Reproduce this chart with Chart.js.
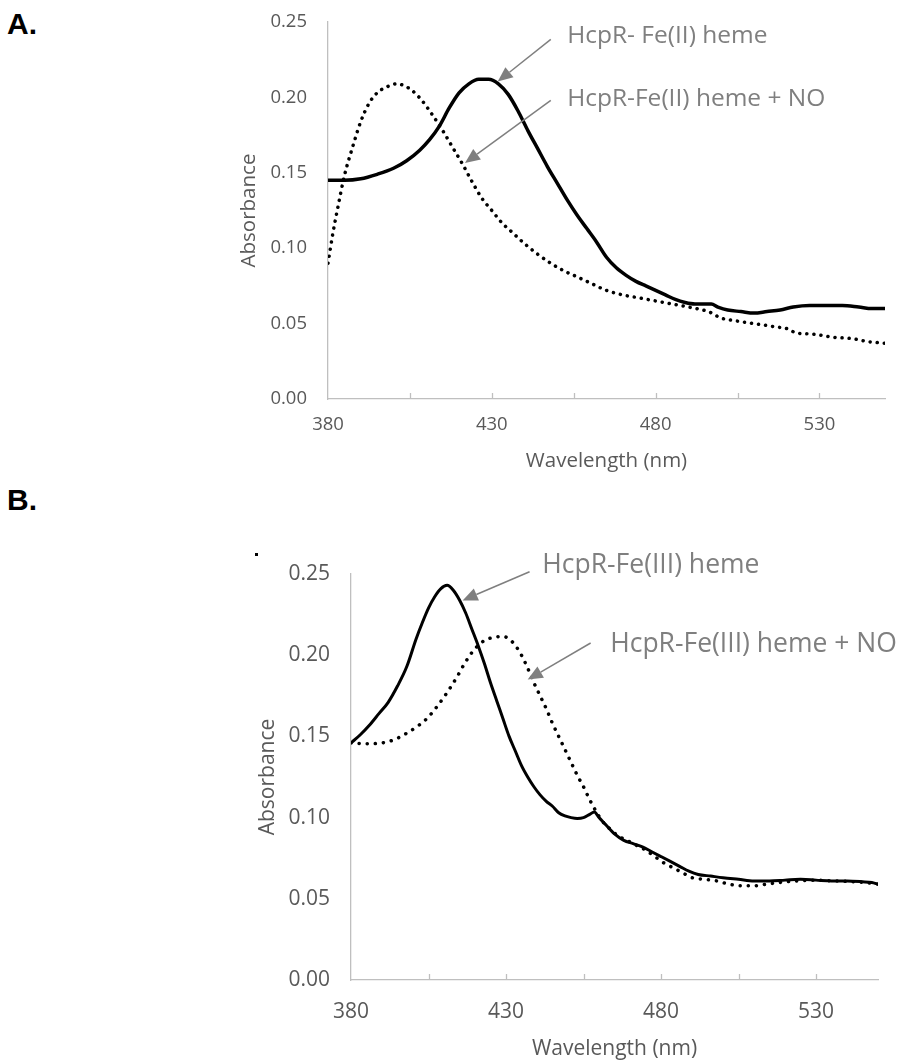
<!DOCTYPE html>
<html>
<head>
<meta charset="utf-8">
<script src="https://cdn.jsdelivr.net/npm/chart.js@4.4.1/dist/chart.umd.min.js"></script>
<style>
  body { margin: 0; background: #fff; }
  #page { position: relative; width: 900px; height: 1062px; overflow: hidden; }
  canvas { position: absolute; }
  .tag { position: absolute; font: bold 30px "Liberation Sans", Arial, sans-serif; line-height: 30px; color: #000; }
  .speck { position: absolute; left: 255px; top: 553px; width: 3px; height: 3px; background: #000; }
</style>
</head>
<body>
<div id="page">
  <div class="tag" style="left:7px; top:9px;">A.</div>
  <div class="tag" style="left:7px; top:485px;">B.</div>
  <div class="speck"></div>
  <canvas id="chartA" width="675" height="480" style="left:225px; top:0px;"></canvas>
  <canvas id="chartB" width="660" height="532" style="left:240px; top:530px;"></canvas>
</div>
<script>
// wavelength axis labels / minor tick marks
const xLabels = [380, 430, 480, 530];
const xMarks = [405, 430, 455, 480, 505, 530];
const yTicks = [0, 0.05, 0.10, 0.15, 0.20, 0.25];

// panel A: HcpR-Fe(II) heme
const aHemeWl = [380, 385, 390, 395, 400, 404, 408, 411, 414, 417, 420, 423, 426, 429, 432, 435, 438, 441, 444, 447,
  450, 453, 456, 459, 462, 465, 468, 471, 474, 477, 480, 483, 486, 489, 492, 495, 497, 499, 502, 506,
  510, 514, 518, 522, 527, 532, 537, 542, 546, 550];
const aHeme = [0.145, 0.145, 0.146, 0.149, 0.153, 0.158, 0.165, 0.172, 0.181, 0.193, 0.203, 0.209, 0.212, 0.212, 0.209, 0.202, 0.191, 0.178, 0.166, 0.154,
  0.143, 0.132, 0.122, 0.113, 0.104, 0.094, 0.087, 0.082, 0.078, 0.075, 0.072, 0.069, 0.066, 0.064, 0.063, 0.063, 0.063, 0.061, 0.059, 0.058,
  0.057, 0.058, 0.059, 0.061, 0.062, 0.062, 0.062, 0.061, 0.060, 0.060];

// panel A: HcpR-Fe(II) heme + NO
const aNoWl = [380, 381.5, 383, 385, 387.5, 390, 392.5, 395, 398, 401, 403, 406, 409, 412, 415, 418, 421, 424, 427, 430,
  433, 436, 440, 444, 448, 452, 456, 460, 465, 470, 475, 480, 485, 490, 496, 498, 499.5, 504, 510, 516,
  521, 522.5, 528, 534, 540, 545, 550];
const aNo = [0.090, 0.110, 0.127, 0.148, 0.167, 0.184, 0.196, 0.203, 0.207, 0.209, 0.208, 0.204, 0.197, 0.188, 0.178, 0.167, 0.156, 0.144, 0.133, 0.125,
  0.117, 0.111, 0.103, 0.096, 0.090, 0.085, 0.081, 0.077, 0.072, 0.069, 0.067, 0.065, 0.063, 0.061, 0.058, 0.056, 0.054, 0.052, 0.050, 0.048,
  0.046, 0.044, 0.043, 0.041, 0.040, 0.038, 0.037];

// panel B: HcpR-Fe(III) heme
const bHemeWl = [380, 383, 386, 389, 392, 395, 398, 401, 403, 405, 407, 409, 411, 413, 415, 417, 419, 421, 423, 425,
  427, 429, 431, 433, 435, 437, 439, 441, 443, 445, 447, 449, 451, 453, 455, 457, 458.5, 460, 462, 465,
  468, 471, 474, 477, 480, 483, 486, 489, 492, 496, 500, 505, 510, 515, 520, 525, 530, 535, 540, 545, 548, 550];
const bHeme = [0.146, 0.151, 0.157, 0.164, 0.171, 0.181, 0.193, 0.210, 0.220, 0.229, 0.236, 0.241, 0.243, 0.240, 0.234, 0.226, 0.216, 0.206, 0.195, 0.183,
  0.172, 0.161, 0.150, 0.141, 0.132, 0.125, 0.119, 0.114, 0.110, 0.107, 0.103, 0.101, 0.100, 0.0995, 0.100, 0.102, 0.1035, 0.100, 0.096, 0.090,
  0.086, 0.084, 0.082, 0.079, 0.076, 0.073, 0.070, 0.067, 0.065, 0.064, 0.063, 0.062, 0.061, 0.061, 0.0615, 0.062, 0.0615, 0.061, 0.061, 0.0605, 0.060, 0.059];

// panel B: HcpR-Fe(III) heme + NO
const bNoWl = [380, 385, 390, 394, 398, 402, 405, 408, 411, 414, 417, 420, 423, 426, 429, 431, 433, 435, 437, 439,
  441, 443, 445, 447, 449, 451, 453, 455, 457, 459, 461, 463, 466, 469, 472, 475, 478, 481, 484, 487,
  490, 494, 498, 502, 506, 510, 514, 518, 524, 530, 536, 542, 546, 550];
const bNo = [0.146, 0.1455, 0.146, 0.148, 0.152, 0.157, 0.162, 0.169, 0.177, 0.186, 0.196, 0.204, 0.209, 0.211, 0.2115, 0.210, 0.206, 0.200, 0.192, 0.183,
  0.175, 0.167, 0.158, 0.150, 0.142, 0.134, 0.126, 0.119, 0.111, 0.104, 0.098, 0.094, 0.089, 0.086, 0.083, 0.080, 0.076, 0.072, 0.069, 0.066,
  0.063, 0.062, 0.061, 0.059, 0.058, 0.058, 0.059, 0.060, 0.061, 0.0615, 0.061, 0.0605, 0.060, 0.059];

const AXIS = '#bfbfbf';
const LABEL = '#595959';
const NOTE = '#7f7f7f';
const FONT = '"Open Sans", sans-serif';

function pairs(xs, ys) {
  return xs.map((x, i) => ({ x: x, y: ys[i] }));
}

// labels and arrows, placed in data units
const notesPlugin = {
  id: 'notes',
  afterDraw(chart) {
    const o = chart.options.plugins.notes;
    const ctx = chart.ctx, xs = chart.scales.x, ys = chart.scales.y;
    ctx.save();
    // inward tick marks on the x axis
    ctx.strokeStyle = AXIS;
    ctx.lineWidth = 1.3;
    xMarks.forEach(v => {
      const px = Math.round(xs.getPixelForValue(v)) + 0.5;
      ctx.beginPath();
      ctx.moveTo(px, ys.bottom);
      ctx.lineTo(px, ys.bottom - 6);
      ctx.stroke();
    });
    ctx.fillStyle = NOTE;
    ctx.font = o.size + 'px ' + FONT;
    ctx.textBaseline = 'middle';
    ctx.textAlign = 'left';
    o.labels.forEach(l => ctx.fillText(l.text, xs.getPixelForValue(l.x), ys.getPixelForValue(l.y)));
    ctx.strokeStyle = NOTE;
    ctx.lineWidth = 1.5;
    o.arrows.forEach(a => {
      const x1 = xs.getPixelForValue(a[0]), y1 = ys.getPixelForValue(a[1]);
      const x2 = xs.getPixelForValue(a[2]), y2 = ys.getPixelForValue(a[3]);
      const ang = Math.atan2(y2 - y1, x2 - x1);
      const hl = 15, hw = 6.5;
      const bx = x2 - hl * Math.cos(ang), by = y2 - hl * Math.sin(ang);
      ctx.beginPath();
      ctx.moveTo(x1, y1);
      ctx.lineTo(bx, by);
      ctx.stroke();
      ctx.beginPath();
      ctx.moveTo(x2, y2);
      ctx.lineTo(bx + hw * Math.sin(ang), by - hw * Math.cos(ang));
      ctx.lineTo(bx - hw * Math.sin(ang), by + hw * Math.cos(ang));
      ctx.closePath();
      ctx.fill();
    });
    ctx.restore();
  }
};

function makePanel(id, p) {
  const ctx = document.getElementById(id).getContext('2d');
  return new Chart(ctx, {
    type: 'line',
    data: {
      datasets: [
        {
          data: pairs(p.hemeWl, p.heme),
          borderColor: '#000', borderWidth: p.solidWidth,
          pointRadius: 0, cubicInterpolationMode: 'monotone'
        },
        {
          data: pairs(p.noWl, p.no),
          borderColor: '#000', borderWidth: p.dotWidth,
          borderDash: [0.1, p.dotGap], borderCapStyle: 'round',
          pointRadius: 0, cubicInterpolationMode: 'monotone'
        }
      ]
    },
    options: {
      responsive: false,
      animation: false,
      layout: { padding: p.padding },
      plugins: {
        legend: { display: false },
        tooltip: { enabled: false },
        notes: { size: p.noteSize, labels: p.labels, arrows: p.arrows }
      },
      scales: {
        x: {
          type: 'linear', min: 380, max: 550,
          afterBuildTicks: s => { s.ticks = xLabels.map(v => ({ value: v })); },
          afterFit: s => { s.height = p.xHeight; s.paddingLeft = 0; s.paddingRight = 0; },
          grid: { display: false, drawTicks: false },
          border: { color: AXIS, width: 1.3 },
          ticks: { color: LABEL, font: { family: FONT, size: p.tickSize }, padding: p.xPad, maxRotation: 0 },
          title: {
            display: true, text: 'Wavelength (nm)', color: LABEL,
            font: { family: FONT, size: p.titleSize }, padding: { top: 0, bottom: p.xTitlePad }
          }
        },
        y: {
          min: 0, max: 0.25,
          afterBuildTicks: s => { s.ticks = yTicks.map(v => ({ value: v })); },
          afterFit: s => { s.width = p.yWidth; s.paddingTop = 0; s.paddingBottom = 0; },
          grid: { display: false, drawTicks: false },
          border: { color: AXIS, width: 1.3 },
          ticks: { color: LABEL, font: { family: FONT, size: p.tickSize }, padding: 21, callback: v => v.toFixed(2) },
          title: {
            display: true, text: 'Absorbance', color: LABEL,
            font: { family: FONT, size: p.titleSize }, padding: { top: p.yTitlePad, bottom: 0 }
          }
        }
      }
    },
    plugins: [notesPlugin]
  });
}

makePanel('chartA', {
  hemeWl: aHemeWl, heme: aHeme, noWl: aNoWl, no: aNo,
  solidWidth: 3.5, dotWidth: 3.5, dotGap: 7,
  padding: { top: 22, right: 15, left: 0, bottom: 0 },
  xHeight: 81, yWidth: 103, xPad: 15, xTitlePad: 7, yTitlePad: 12,
  tickSize: 18.5, titleSize: 20.5, noteSize: 24.5,
  labels: [
    { text: 'HcpR- Fe(II) heme', x: 453, y: 0.2405 },
    { text: 'HcpR-Fe(II) heme + NO', x: 453, y: 0.199 }
  ],
  arrows: [[448.0, 0.2385, 431.8, 0.2105], [448.0, 0.198, 421.8, 0.1565]]
});

makePanel('chartB', {
  hemeWl: bHemeWl, heme: bHeme, noWl: bNoWl, no: bNo,
  solidWidth: 3, dotWidth: 3.5, dotGap: 8,
  padding: { top: 44, right: 22, left: 0, bottom: 0 },
  xHeight: 82, yWidth: 111, xPad: 19, xTitlePad: 0, yTitlePad: 15,
  tickSize: 21, titleSize: 21, noteSize: 26.5,
  labels: [
    { text: 'HcpR-Fe(III) heme', x: 441.7, y: 0.255 },
    { text: 'HcpR-Fe(III) heme + NO', x: 463.6, y: 0.2065 }
  ],
  arrows: [[437.6, 0.2514, 416.0, 0.2337], [457.3, 0.2075, 437.0, 0.185]]
});
</script>
</body>
</html>
